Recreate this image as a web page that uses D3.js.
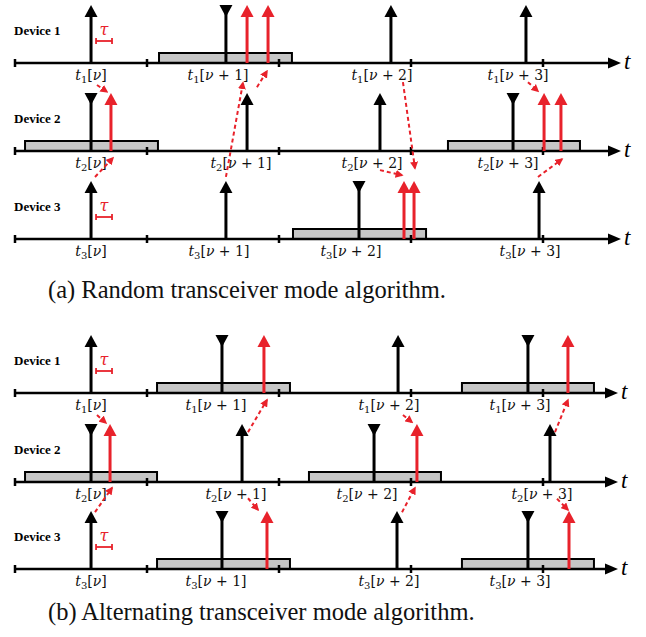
<!DOCTYPE html>
<html>
<head>
<meta charset="utf-8">
<script src="https://cdn.jsdelivr.net/npm/d3@7"></script>
<style>
  body { margin: 0; background: #fff; }
  svg { display: block; }
</style>
</head>
<body>
<div id="chart"></div>
<script>
const width = 646;
const height = 637;

// slot boundaries (time in slot units)
const slotTicks = [0, 1, 2, 3, 4];
const deviceNames = ['Device 1', 'Device 2', 'Device 3'];
const slotText = ['ν', 'ν + 1', 'ν + 2', 'ν + 3'];
const tauRows = [0, 2];
const tauSpan = [0.614, 0.735];

// (a) random transceiver mode
const randTx = [[0.576, 2.848, 3.871], [1.758, 2.765], [0.576, 1.598, 3.970]];
const randRx = [[1.598], [0.576, 3.773], [2.606]];
const randRelay = [[1.758, 1.917], [0.727, 4.008, 4.136], [2.947, 3.023]];
const randWindows = [[[1.091, 2.098]], [[0.076, 1.083], [3.280, 4.280]], [[2.106, 3.114]]];
const randLabels = [[0.576, 1.538, 2.780, 3.811], [0.576, 1.712, 2.705, 3.735], [0.576, 1.545, 2.545, 3.902]];
// [fromDevice, t, h, toDevice, t, h]
const randLinks = [
  [0, 0.621, -0.38, 1, 0.697, 1.02],
  [2, 1.598, 1.07, 0, 1.727, -0.34],
  [1, 1.833, 1.10, 0, 1.909, -0.14],
  [0, 2.939, -0.33, 2, 3.030, 1.22],
  [1, 2.765, -0.33, 2, 2.932, 1.10],
  [0, 3.886, -0.33, 1, 3.962, 1.03],
  [2, 3.962, 1.07, 1, 4.144, -0.14],
  [2, 0.606, 1.07, 1, 0.742, -0.12]
];

// (b) alternating transceiver mode
const altTx = [[0.576, 2.902], [1.720, 4.053], [0.576, 2.894]];
const altRx = [[1.568, 3.886], [0.576, 2.720], [1.568, 3.886]];
const altRelay = [[1.886, 4.189], [0.720, 3.045], [1.909, 4.197]];
const altWindows = [[[1.076, 2.083], [3.386, 4.386]], [[0.076, 1.076], [2.227, 3.227]], [[1.076, 2.083], [3.386, 4.386]]];
const altLabels = [[0.576, 1.523, 2.833, 3.826], [0.576, 1.674, 2.667, 3.992], [0.576, 1.523, 2.833, 3.826]];
const altLinks = [
  [0, 0.621, -0.38, 1, 0.689, 1.02],
  [1, 1.765, 0.86, 0, 1.909, -0.12],
  [0, 2.939, -0.38, 1, 3.008, 1.03],
  [1, 4.091, 0.86, 0, 4.189, -0.12],
  [2, 0.606, 0.98, 1, 0.735, -0.10],
  [1, 1.765, -0.28, 2, 1.841, 1.02],
  [2, 2.932, 0.98, 1, 3.030, -0.10],
  [1, 4.106, -0.29, 2, 4.189, 1.02]
];

const panels = [
  { axes: [63, 151, 239], tx: randTx, rx: randRx, relay: randRelay, windows: randWindows,
    labels: randLabels, links: randLinks, caption: '(a) Random transceiver mode algorithm.', capY: 298, axisEnd: 610 },
  { axes: [393, 482, 569], tx: altTx, rx: altRx, relay: altRelay, windows: altWindows,
    labels: altLabels, links: altLinks, caption: '(b) Alternating transceiver mode algorithm.', capY: 620, axisEnd: 607 }
];

const red = '#e8222b';
const serif = "'Liberation Serif', 'Times New Roman', serif";
const x = d3.scaleLinear().domain([0, 4]).range([15, 543]);
const h = d3.scaleLinear().domain([0, 1]).range([0, 58]);

const svg = d3.select('#chart').append('svg')
  .attr('width', width)
  .attr('height', height);

svg.append('defs').append('marker')
  .attr('id', 'dash-head')
  .attr('viewBox', '0 0 10 10')
  .attr('refX', 8).attr('refY', 5)
  .attr('markerWidth', 4).attr('markerHeight', 4)
  .attr('markerUnits', 'strokeWidth')
  .attr('orient', 'auto')
  .append('path')
    .attr('d', 'M0,0 L10,5 L0,10 Z')
    .attr('fill', red);

const upArrow = (g, xs, y0, color) => {
  g.selectAll(null).data(xs).enter().append('line')
    .attr('x1', d => x(d)).attr('x2', d => x(d))
    .attr('y1', y0).attr('y2', y0 - h(1) + 10)
    .attr('stroke', color).attr('stroke-width', 3);
  g.selectAll(null).data(xs).enter().append('path')
    .attr('d', d => {
      const cx = x(d), top = y0 - h(1);
      return `M${cx - 6.5},${top + 12}L${cx + 6.5},${top + 12}L${cx},${top}Z`;
    })
    .attr('fill', color);
};

const downAntenna = (g, xs, y0) => {
  g.selectAll(null).data(xs).enter().append('line')
    .attr('x1', d => x(d)).attr('x2', d => x(d))
    .attr('y1', y0).attr('y2', y0 - h(1) + 6)
    .attr('stroke', '#000').attr('stroke-width', 3);
  g.selectAll(null).data(xs).enter().append('path')
    .attr('d', d => {
      const cx = x(d), top = y0 - h(1);
      return `M${cx - 6.5},${top}L${cx + 6.5},${top}L${cx},${top + 12}Z`;
    })
    .attr('fill', '#000');
};

const slotLabel = (g, tx, y, dev, idx) => {
  const t = g.append('text')
    .attr('x', x(tx)).attr('y', y)
    .attr('text-anchor', 'middle')
    .attr('font-family', 'DejaVu Serif')
    .attr('font-size', 14)
    .attr('fill', '#111');
  t.append('tspan').attr('font-style', 'italic').text('t');
  t.append('tspan').attr('font-size', 10).attr('dy', 3).text(dev + 1);
  t.append('tspan').attr('dy', -3).text('[');
  const rest = slotText[idx];
  t.append('tspan').attr('font-style', 'italic').text('ν');
  if (rest.length > 1) t.append('tspan').text(rest.slice(1));
  t.append('tspan').text(']');
};

panels.forEach(p => {
  const g = svg.append('g');

  p.axes.forEach((ay, dev) => {
    // device name
    g.append('text')
      .attr('x', 14).attr('y', ay - 28)
      .attr('font-family', serif)
      .attr('font-weight', 'bold')
      .attr('font-size', 13)
      .text(deviceNames[dev]);

    // receive windows
    g.selectAll(null).data(p.windows[dev]).enter().append('rect')
      .attr('x', d => x(d[0]))
      .attr('y', ay - 10)
      .attr('width', d => x(d[1]) - x(d[0]))
      .attr('height', 10)
      .attr('fill', '#c6c6c6')
      .attr('stroke', '#000')
      .attr('stroke-width', 2);

    // time axis
    g.append('line')
      .attr('x1', x(0)).attr('x2', p.axisEnd)
      .attr('y1', ay).attr('y2', ay)
      .attr('stroke', '#000').attr('stroke-width', 2.5);
    g.append('path')
      .attr('d', `M${p.axisEnd - 2},${ay - 5.5}L${p.axisEnd + 11},${ay}L${p.axisEnd - 2},${ay + 5.5}Z`)
      .attr('fill', '#000');
    g.append('text')
      .attr('x', p.axisEnd + 14).attr('y', ay + 6)
      .attr('font-family', serif)
      .attr('font-style', 'italic')
      .attr('font-size', 23)
      .text('t');

    g.selectAll(null).data(slotTicks).enter().append('line')
      .attr('x1', d => x(d)).attr('x2', d => x(d))
      .attr('y1', ay - 4).attr('y2', ay + 4)
      .attr('stroke', '#000').attr('stroke-width', 2.5);

    // arrows
    upArrow(g, p.tx[dev], ay, '#000');
    downAntenna(g, p.rx[dev], ay);
    upArrow(g, p.relay[dev], ay, red);

    // slot labels
    p.labels[dev].forEach((lt, i) => slotLabel(g, lt, ay + 17, dev, i));

    // tau marker
    if (tauRows.includes(dev)) {
      const by = ay - 22;
      g.append('line')
        .attr('x1', x(tauSpan[0])).attr('x2', x(tauSpan[1]))
        .attr('y1', by).attr('y2', by)
        .attr('stroke', red).attr('stroke-width', 1.8);
      tauSpan.forEach(v => g.append('line')
        .attr('x1', x(v)).attr('x2', x(v))
        .attr('y1', by - 3).attr('y2', by + 3)
        .attr('stroke', red).attr('stroke-width', 1.8));
      g.append('text')
        .attr('x', x((tauSpan[0] + tauSpan[1]) / 2)).attr('y', by - 6)
        .attr('text-anchor', 'middle')
        .attr('font-family', 'DejaVu Serif')
        .attr('font-style', 'italic')
        .attr('font-size', 16)
        .attr('fill', red)
        .text('τ');
    }
  });

  // dashed relay links
  g.selectAll(null).data(p.links).enter().append('line')
    .attr('x1', d => x(d[1])).attr('y1', d => p.axes[d[0]] - h(d[2]))
    .attr('x2', d => x(d[4])).attr('y2', d => p.axes[d[3]] - h(d[5]))
    .attr('stroke', red)
    .attr('stroke-width', 2)
    .attr('stroke-dasharray', '4,3')
    .attr('marker-end', 'url(#dash-head)');

  svg.append('text')
    .attr('x', 48).attr('y', p.capY)
    .attr('font-family', serif)
    .attr('font-size', 24.5)
    .attr('fill', '#111')
    .text(p.caption);
});
</script>
</body>
</html>
